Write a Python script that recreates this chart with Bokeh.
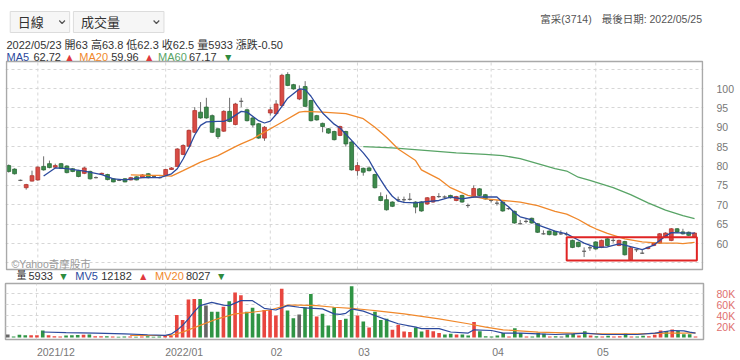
from bokeh.plotting import figure
from bokeh.layouts import column
from bokeh.models import Range1d, FixedTicker
from bokeh.core.properties import value
from bokeh.embed import file_html
from bokeh.resources import INLINE

# ---------------- data ----------------
opens = [80.1, 79.2, 76.3, 74.4, 76.1, 76.4, 79.9, 80.6, 79.7, 80.6,
         80.0, 79.3, 78.8, 78.1, 78.6, 77.0, 77.9, 77.8, 76.7, 76.3,
         76.7, 76.4, 77.2, 77.0, 78.0, 77.3, 77.0, 77.5, 79.1, 79.9,
         83.0, 85.1, 88.7, 93.9, 95.2, 93.0, 89.6, 89.0, 94.1, 90.7,
         96.7, 94.5, 92.4, 90.9, 87.2, 93.7, 93.5, 95.6, 103.6, 101.0,
         97.3, 100.5, 96.9, 93.0, 91.0, 89.6, 88.9, 87.9, 88.9, 86.2,
         78.8, 79.4, 79.5, 77.8, 72.1, 71.3, 70.7, 71.3, 71.3, 71.4,
         70.7, 70.7, 70.2, 70.7, 72.1, 72.0, 72.4, 71.1, 72.4, 69.8,
         72.0, 74.1, 72.6, 71.1, 70.4, 70.7, 69.0, 68.3, 65.1, 65.7,
         66.5, 65.1, 62.5, 63.2, 63.1, 62.5, 62.3, 60.8, 60.3, 58.0,
         58.9, 60.4, 59.0, 61.2, 60.8, 59.5, 60.5, 55.8, 58.4, 57.5,
         58.7, 59.5, 60.1, 61.6, 60.8, 63.8, 63.0, 62.9, 61.6]
highs = [80.4, 79.4, 76.5, 75.4, 78.8, 79.9, 82.5, 81.4, 80.6, 80.8,
         80.2, 79.5, 79.0, 79.8, 78.8, 77.3, 78.3, 78.0, 76.9, 76.5,
         76.9, 77.2, 77.4, 77.9, 78.2, 77.6, 77.3, 79.3, 79.7, 84.6,
         85.6, 89.4, 95.2, 96.5, 97.6, 93.3, 89.8, 94.4, 97.6, 96.3,
         97.6, 94.8, 92.6, 91.1, 90.3, 95.2, 97.0, 103.8, 104.2, 101.2,
         100.8, 101.9, 97.1, 93.2, 91.2, 89.8, 89.1, 90.4, 89.1, 86.4,
         81.0, 79.6, 79.9, 78.0, 73.2, 72.6, 70.9, 72.1, 72.1, 73.0,
         70.9, 70.9, 72.0, 72.3, 73.0, 72.4, 72.6, 72.3, 72.6, 70.3,
         75.0, 74.3, 72.8, 71.4, 71.2, 70.9, 69.3, 68.5, 66.1, 66.3,
         66.7, 65.3, 63.4, 63.4, 63.3, 63.4, 63.0, 61.0, 60.5, 59.0,
         59.6, 60.6, 61.0, 61.4, 61.4, 61.0, 60.7, 59.1, 58.5, 58.3,
         59.2, 60.3, 62.7, 62.9, 64.0, 64.0, 63.8, 63.1, 62.9]
lows = [78.3, 77.8, 76.1, 73.9, 76.0, 76.2, 78.8, 79.4, 79.4, 79.2,
        78.1, 78.4, 77.1, 77.9, 76.5, 76.8, 77.8, 76.3, 75.8, 76.1,
        75.8, 76.3, 76.3, 76.9, 76.8, 77.1, 76.8, 77.4, 79.0, 79.8,
        82.8, 85.0, 88.5, 92.2, 92.2, 88.5, 87.0, 88.8, 91.3, 90.5,
        95.2, 91.5, 90.0, 87.0, 86.5, 93.0, 93.3, 95.4, 100.6, 99.7,
        97.0, 95.2, 91.5, 91.7, 88.7, 88.3, 86.6, 87.7, 85.0, 78.8,
        77.5, 77.5, 78.6, 74.2, 70.9, 68.5, 69.4, 70.7, 70.4, 71.1,
        67.8, 68.2, 70.0, 70.5, 71.8, 71.6, 71.6, 70.9, 70.5, 69.2,
        71.8, 72.2, 71.3, 70.6, 69.8, 68.2, 68.7, 65.1, 64.9, 65.2,
        65.1, 62.7, 62.3, 62.1, 62.0, 62.2, 62.0, 58.8, 59.0, 56.5,
        58.1, 58.4, 58.8, 59.3, 60.2, 59.3, 56.9, 55.6, 57.8, 57.3,
        58.5, 59.3, 59.9, 61.4, 60.6, 62.7, 62.3, 61.9, 61.4]
closes = [78.6, 78.0, 76.3, 75.2, 77.5, 79.7, 79.0, 79.6, 80.1, 79.4,
          78.3, 78.6, 77.3, 79.5, 76.7, 77.0, 78.1, 76.5, 75.9, 76.3,
          75.9, 77.0, 76.4, 77.7, 77.0, 77.3, 77.0, 79.1, 79.5, 84.4,
          85.3, 89.2, 94.3, 92.4, 92.4, 88.7, 87.6, 94.1, 91.5, 96.0,
          96.7, 91.7, 90.6, 87.2, 90.0, 94.5, 96.0, 103.4, 100.8, 99.9,
          99.7, 95.4, 91.7, 91.9, 90.2, 88.5, 86.8, 90.2, 85.7, 79.0,
          80.1, 78.4, 78.8, 74.4, 71.1, 68.7, 69.6, 71.3, 71.3, 71.4,
          69.4, 68.4, 71.8, 72.1, 72.1, 72.0, 71.8, 72.1, 70.7, 69.8,
          74.2, 72.4, 71.5, 71.1, 70.4, 68.4, 69.0, 65.3, 65.1, 65.7,
          65.3, 62.9, 62.5, 62.3, 62.2, 62.5, 62.3, 59.0, 59.2, 58.0,
          58.9, 58.6, 60.8, 59.5, 60.8, 60.8, 57.1, 58.9, 58.4, 57.5,
          59.0, 60.1, 62.5, 62.7, 63.8, 63.0, 62.5, 62.1, 62.7]
volumes = [5500, 2000, 5000, 4000, 4000, 4000, 12700, 4000, 2500, 2000,
           3500, 4000, 4500, 5000, 5500, 2500, 2500, 2500, 2000, 1500,
           2000, 2000, 1500, 2000, 2500, 1500, 2000, 3600, 3000, 41000,
           32000, 69000, 70000, 70000, 58000, 47000, 47000, 56000, 66000, 82000,
           77000, 47000, 54000, 43000, 50000, 50000, 40000, 88500, 49000, 35000,
           42000, 55000, 79000, 38000, 43000, 22000, 55000, 32000, 34000, 93000,
           40000, 29000, 18000, 47000, 32000, 34000, 14000, 23000, 11000, 10000,
           18000, 11000, 14000, 11500, 8000, 5500, 6700, 5500, 5500, 3600,
           28000, 11500, 2400, 2000, 3600, 8000, 2000, 17000, 8000, 2000,
           2000, 8500, 6700, 2000, 2400, 2000, 5500, 6700, 3600, 11500,
           3600, 2400, 2000, 3000, 2000, 2400, 7500, 2000, 2000, 3000,
           2400, 4800, 12700, 12000, 14500, 12000, 5933, 5900, 2000]
vol_dir_rows = ["kgggrrgrrr", "gggrgrrgrg", "grgrgggrrr", "rrrgkggrgr",
                "rgggrrrrgg", "kggrgggrgg", "rgrgggrrrr", "ggrrrggrgg",
                "rgggggrggr", "gggrgkggrg", "rgrgrrgrgg", "rrrgrgggr"]
vol_dir = list("".join(vol_dir_rows))

ma5_x = [6, 8, 10, 13, 16, 18, 20, 23, 26, 28, 29, 30, 31, 32, 33, 34, 36, 37, 38, 40,
         41, 43, 44, 45, 46, 47, 48, 50, 51, 52, 53, 54, 56, 57, 58, 60, 61, 62, 63, 64,
         65, 66, 67, 68, 70, 71, 74, 76, 78, 80, 82, 84, 85, 86, 87, 88, 90, 91, 94, 96,
         98, 99, 101, 103, 105, 106, 109, 111, 112, 113, 114, 116, 118]
ma5_y = [77.4, 79.5, 79.3, 78.7, 77.8, 76.7, 76.4, 77.0, 77.0, 78.0, 79.3, 81.8, 84.7, 88.0, 90.5, 91.4, 91.5, 91.5, 92.1, 94.1,
         93.9, 91.7, 91.1, 91.6, 93.3, 95.4, 97.5, 99.9, 99.7, 98.0, 95.7, 93.7, 90.8, 89.8, 88.2, 85.0, 83.4, 81.5, 78.8, 76.4,
         74.1, 72.2, 71.0, 70.6, 70.5, 70.7, 71.1, 72.0, 71.5, 72.0, 72.0, 72.0, 70.6, 69.5, 68.0, 66.9, 66.1, 64.8, 63.2, 62.5,
         60.9, 60.1, 59.0, 59.1, 59.9, 59.6, 58.4, 59.6, 60.8, 61.9, 62.8, 62.72, 62.7]
ma20_x = [21, 24, 26, 28, 30, 33, 36, 39, 40, 42, 43, 47, 50, 51, 54, 58, 61, 63, 65, 67,
          70, 71, 74, 76, 79, 82, 85, 88, 91, 94, 96, 98, 100, 101, 103, 106, 109, 112, 115, 116, 118]
ma20_y = [77.7, 77.6, 77.6, 77.4, 78.8, 81.0, 82.7, 85.0, 85.7, 87.0, 87.9, 91.3, 93.9, 94.1, 93.9, 93.5, 92.2, 90.0, 87.4, 84.4,
          81.4, 79.0, 76.7, 74.4, 72.4, 71.5, 71.1, 70.7, 69.8, 68.3, 67.6, 66.2, 64.5, 63.8, 62.6, 61.2, 60.4, 60.1, 60.1, 59.96, 60.3]
ma60_x = [61, 66, 71, 77, 82, 85, 88, 91, 94, 96, 98, 100, 104, 107, 110, 113, 116, 118]
ma60_y = [85.0, 84.7, 84.1, 83.4, 83.0, 82.7, 81.9, 80.6, 79.3, 78.7, 77.1, 76.3, 74.4, 72.6, 70.5, 68.6, 67.17, 66.4]

mv5_x = [6, 10, 15, 20, 24, 27, 28, 29, 30, 31, 32, 33, 35, 37, 38, 40, 42, 44, 46, 48,
         50, 51, 54, 56, 57, 58, 59, 61, 63, 65, 67, 70, 71, 74, 76, 79, 80, 83, 85, 88,
         91, 94, 97, 99, 102, 105, 108, 111, 114, 116, 117, 118]
mv5_y = [10000, 9000, 8000, 6500, 5000, 4000, 6000, 13000, 22000, 34000, 47000, 58000, 64000, 59000, 58000, 67000, 67000, 53000, 50000, 58000,
         55000, 54000, 52000, 43000, 42000, 44000, 52000, 48000, 40000, 32000, 25000, 19000, 16000, 16000, 10000, 8000, 14000, 12700, 8000, 8000,
         6700, 5500, 6700, 8000, 5500, 5500, 5500, 8000, 12700, 12182, 9700, 8000]
mv20_x = [21, 28, 30, 33, 36, 39, 42, 45, 48, 50, 53, 56, 59, 62, 63, 68, 74, 79, 82, 85,
          91, 97, 102, 108, 113, 116, 118]
mv20_y = [3600, 3600, 9700, 22000, 34000, 43000, 46000, 50000, 59000, 59000, 58000, 55000, 53000, 50000, 49000, 43000, 34000, 25000, 19000, 14000,
          9700, 8000, 6700, 6700, 8000, 8027, 8500]

month_starts = [5, 27, 45, 60, 83, 101]
month_labels = ["2021/12", "2022/01", "02", "03", "04", "05"]
price_ticks = [60, 65, 70, 75, 80, 85, 90, 95, 100]
price_grid = [55, 60, 65, 70, 75, 80, 85, 90, 95, 100, 105]
vol_ticks = [20000, 40000, 60000, 80000]
vol_tick_labels = ["20K", "40K", "60K", "80K"]

box_first, box_last, box_top, box_bottom = 96, 118, 61.6, 55.6

stock_name = "富采(3714)"
last_date = "2022/05/25"
sel_date, sel_o, sel_h, sel_l, sel_c, sel_v, sel_chg = "2022/05/23", "63", "63.8", "62.3", "62.5", "5933", "-0.50"
ma_vals = ["62.72", "59.96", "67.17"]
ma_dirs = ["▲", "▲", "▼"]
mv_vals = ["5933", "12182", "8027"]
mv_dirs = ["▼", "▲", "▼"]

# ---------------- styling / layout ----------------
FONT = "Liberation Sans, Noto Sans CJK TC"
RED, GREEN, GRAY = "#d84b45", "#3d8b4c", "#5a5a5a"
RED_L, GREEN_L = "#b2352f", "#2b6a38"
VRED, VGREEN, VGRAY = "#e8463f", "#2f9444", "#666666"
C_MA5, C_MA20, C_MA60 = "#2c4a9e", "#f0882b", "#58a466"
UP, DOWN = "#e0393e", "#2e8b3e"
GRID = "#d6d6d6"
OUTLINE = "#a9a9a9"
W = 740
PANEL_L, PANEL_R = 5, 703            # page x of the panel frames
P_TOP, P_BOT = 61, 269               # page y of the price panel
FIG_TOP, FIG_BOT = 36, 282           # page y of the price figure canvas
PPU = 3.875                          # pixels per price unit

panel_x0, panel_x1 = -0.39, 119.37
ppx = (PANEL_R - PANEL_L) / (panel_x1 - panel_x0)
p_hi = 106.97
p_lo = p_hi - (P_BOT - P_TOP) / PPU


def px2x(px):
    return panel_x0 + (px - PANEL_L) / ppx


def py2y(py):
    return p_hi - (py - P_TOP) / PPU


def txt(fig, x, y, s, color, size="11px", align="left"):
    fig.text(x=[x], y=[y], text=[s], text_color=color, text_font=value(FONT),
             text_font_size=size, text_baseline="middle", text_align=align)


# ---------------- header (dropdowns + title) ----------------
hd = figure(width=W, height=FIG_TOP, x_range=Range1d(0, W), y_range=Range1d(FIG_TOP, 0),
            output_backend="svg", toolbar_location=None,
            x_axis_location=None, y_axis_location=None,
            min_border_left=0, min_border_right=0, min_border_top=0, min_border_bottom=0)
hd.grid.visible = False
hd.outline_line_color = None
hd.quad(left=[5, 72], right=[68, 168], top=[11, 11], bottom=[32, 32],
        fill_color="#f6f6f6", line_color="#dcdcdc", line_width=1)
txt(hd, 13, 22, "日線", "#333333", "13px")
txt(hd, 80, 22, "成交量", "#333333", "13px")
hd.multi_line(xs=[[57, 60, 63], [157, 160, 163]], ys=[[20, 23, 20], [20, 23, 20]],
              line_color="#555555", line_width=1.2)
txt(hd, 567, 18, stock_name, "#555555", "10.5px")
txt(hd, 632, 18, f"最後日期: {last_date}", "#555555", "10.5px")

# ---------------- price panel ----------------
p = figure(width=W, height=FIG_BOT - FIG_TOP,
           x_range=Range1d(px2x(PANEL_L - 1), px2x(PANEL_R + 1)),
           y_range=Range1d(py2y(FIG_BOT), py2y(FIG_TOP)),
           output_backend="svg", toolbar_location=None,
           x_axis_location=None, y_axis_location="right",
           min_border_left=PANEL_L - 1, min_border_right=W - PANEL_R - 1,
           min_border_top=0, min_border_bottom=0)
p.outline_line_color = None
p.xgrid.visible = False
p.ygrid.ticker = FixedTicker(ticks=price_grid)
p.ygrid.grid_line_color = GRID
p.ygrid.grid_line_dash = "3 3"
p.yaxis.ticker = FixedTicker(ticks=price_ticks)
p.yaxis.axis_line_color = None
p.yaxis.major_tick_line_color = None
p.yaxis.minor_tick_line_color = None
p.yaxis.major_tick_out = 0
p.yaxis.minor_tick_out = 0
p.yaxis.major_label_standoff = 13
p.yaxis.major_label_text_color = "#777777"
p.yaxis.major_label_text_font = "Liberation Sans"
p.yaxis.major_label_text_font_size = "10.5px"

# vertical month grid lines, only inside the price panel
p.segment(x0=month_starts, y0=[p_lo] * len(month_starts), x1=month_starts, y1=[p_hi] * len(month_starts),
          line_color=GRID, line_dash="3 3", line_width=1)

idx = list(range(len(opens)))
fills, lines = [], []
for o, c in zip(opens, closes):
    if c > o:
        fills.append(RED); lines.append(RED_L)
    elif c < o:
        fills.append(GREEN); lines.append(GREEN_L)
    else:
        fills.append(GRAY); lines.append(GRAY)
p.segment(x0=idx, y0=lows, x1=idx, y1=highs, line_color="#6e6e6e", line_width=1)
p.vbar(x=idx, width=0.66, top=[max(o, c) for o, c in zip(opens, closes)],
       bottom=[min(o, c) for o, c in zip(opens, closes)],
       fill_color=fills, line_color=lines, line_width=0.8)
p.line(ma60_x, ma60_y, line_color=C_MA60, line_width=1.3)
p.line(ma20_x, ma20_y, line_color=C_MA20, line_width=1.3)
p.line(ma5_x, ma5_y, line_color=C_MA5, line_width=1.3)
p.quad(left=[box_first], right=[box_last + 0.4], top=[box_top], bottom=[box_bottom],
       fill_alpha=0, line_color="#e02424", line_width=2)
p.text(x=[px2x(10)], y=[py2y(263)], text=["©Yahoo奇摩股市"], text_color="#9a9a9a",
       text_font=value(FONT), text_font_size="10.5px", text_baseline="middle")
# panel frame
p.quad(left=[panel_x0], right=[panel_x1], top=[p_hi], bottom=[p_lo],
       fill_alpha=0, line_color=OUTLINE, line_width=1.5)

# OHLC line and MA legend (above the panel)
txt(p, px2x(5), py2y(44), f"{sel_date} 開{sel_o} 高{sel_h} 低{sel_l} 收{sel_c} 量{sel_v} 漲跌{sel_chg}", "#333333", "11px")
ma_cols = [C_MA5, C_MA20, C_MA60]
ma_names = ["MA5", "MA20", "MA60"]
ma_pos = [(5, 32, 63), (78, 110, 143), (157, 188, 222)]
for n, c, vv, d, (a, b, t) in zip(ma_names, ma_cols, ma_vals, ma_dirs, ma_pos):
    txt(p, px2x(a), py2y(56), n, c, "11px")
    txt(p, px2x(b), py2y(56), vv, "#333333", "11px")
    txt(p, px2x(t), py2y(56), d, UP if d == "▲" else DOWN, "10.5px")

# volume legend (between the panels)
mv_names = ["量", "MV5", "MV20"]
mv_cols = ["#333333", C_MA5, C_MA20]
mv_pos = [(15, 27, 57), (74, 100, 137), (154, 185, 215)]
for n, c, vv, d, (a, b, t) in zip(mv_names, mv_cols, mv_vals, mv_dirs, mv_pos):
    txt(p, px2x(a), py2y(275), n, c, "10px" if n == "量" else "11px")
    txt(p, px2x(b), py2y(275.5), vv, "#333333", "11px")
    txt(p, px2x(t), py2y(275.5), d, UP if d == "▲" else DOWN, "10.5px")

# ---------------- volume panel ----------------
VPX = 0.00055          # pixels per lot
v_lo, v_hi = -2 / VPX, 54 / VPX
v = figure(width=W, height=78, x_range=Range1d(panel_x0, panel_x1), y_range=Range1d(v_lo, v_hi),
           output_backend="svg", toolbar_location=None,
           x_axis_location="below", y_axis_location="right",
           min_border_left=PANEL_L, min_border_right=W - PANEL_R, min_border_top=1, min_border_bottom=21)
v.outline_line_color = OUTLINE
v.outline_line_width = 1.5
label_pos = [round(m + (len(s) * 5.0 / 2 + 1.5) / ppx, 3) for m, s in zip(month_starts, month_labels)]
v.xaxis.ticker = FixedTicker(ticks=label_pos)
v.xaxis.major_label_overrides = {t: s for t, s in zip(label_pos, month_labels)}
v.xgrid.ticker = FixedTicker(ticks=month_starts)
v.ygrid.ticker = FixedTicker(ticks=vol_ticks)
for g in (v.xgrid, v.ygrid):
    g.grid_line_color = GRID
    g.grid_line_dash = "3 3"
v.yaxis.ticker = FixedTicker(ticks=vol_ticks)
v.yaxis.major_label_overrides = {t: s for t, s in zip(vol_ticks, vol_tick_labels)}
for ax in (v.xaxis, v.yaxis):
    ax.axis_line_color = None
    ax.major_tick_line_color = None
    ax.minor_tick_line_color = None
    ax.major_tick_out = 0
    ax.minor_tick_out = 0
    ax.major_label_text_font = "Liberation Sans"
    ax.major_label_text_font_size = "10.5px"
v.yaxis.major_label_standoff = 13
v.yaxis.major_label_text_color = "#e07070"
v.xaxis.major_label_standoff = 6
v.xaxis.major_label_text_color = "#777777"
vcol = {"r": VRED, "g": VGREEN, "k": VGRAY}
v.vbar(x=idx, width=0.62, top=volumes, bottom=0, fill_color=[vcol[d] for d in vol_dir],
       line_color=None)
v.line(mv20_x, mv20_y, line_color=C_MA20, line_width=1.2)
v.line(mv5_x, mv5_y, line_color=C_MA5, line_width=1.2)

layout = column(hd, p, v, spacing=0)
open("out.html", "w").write(file_html(layout, INLINE))
